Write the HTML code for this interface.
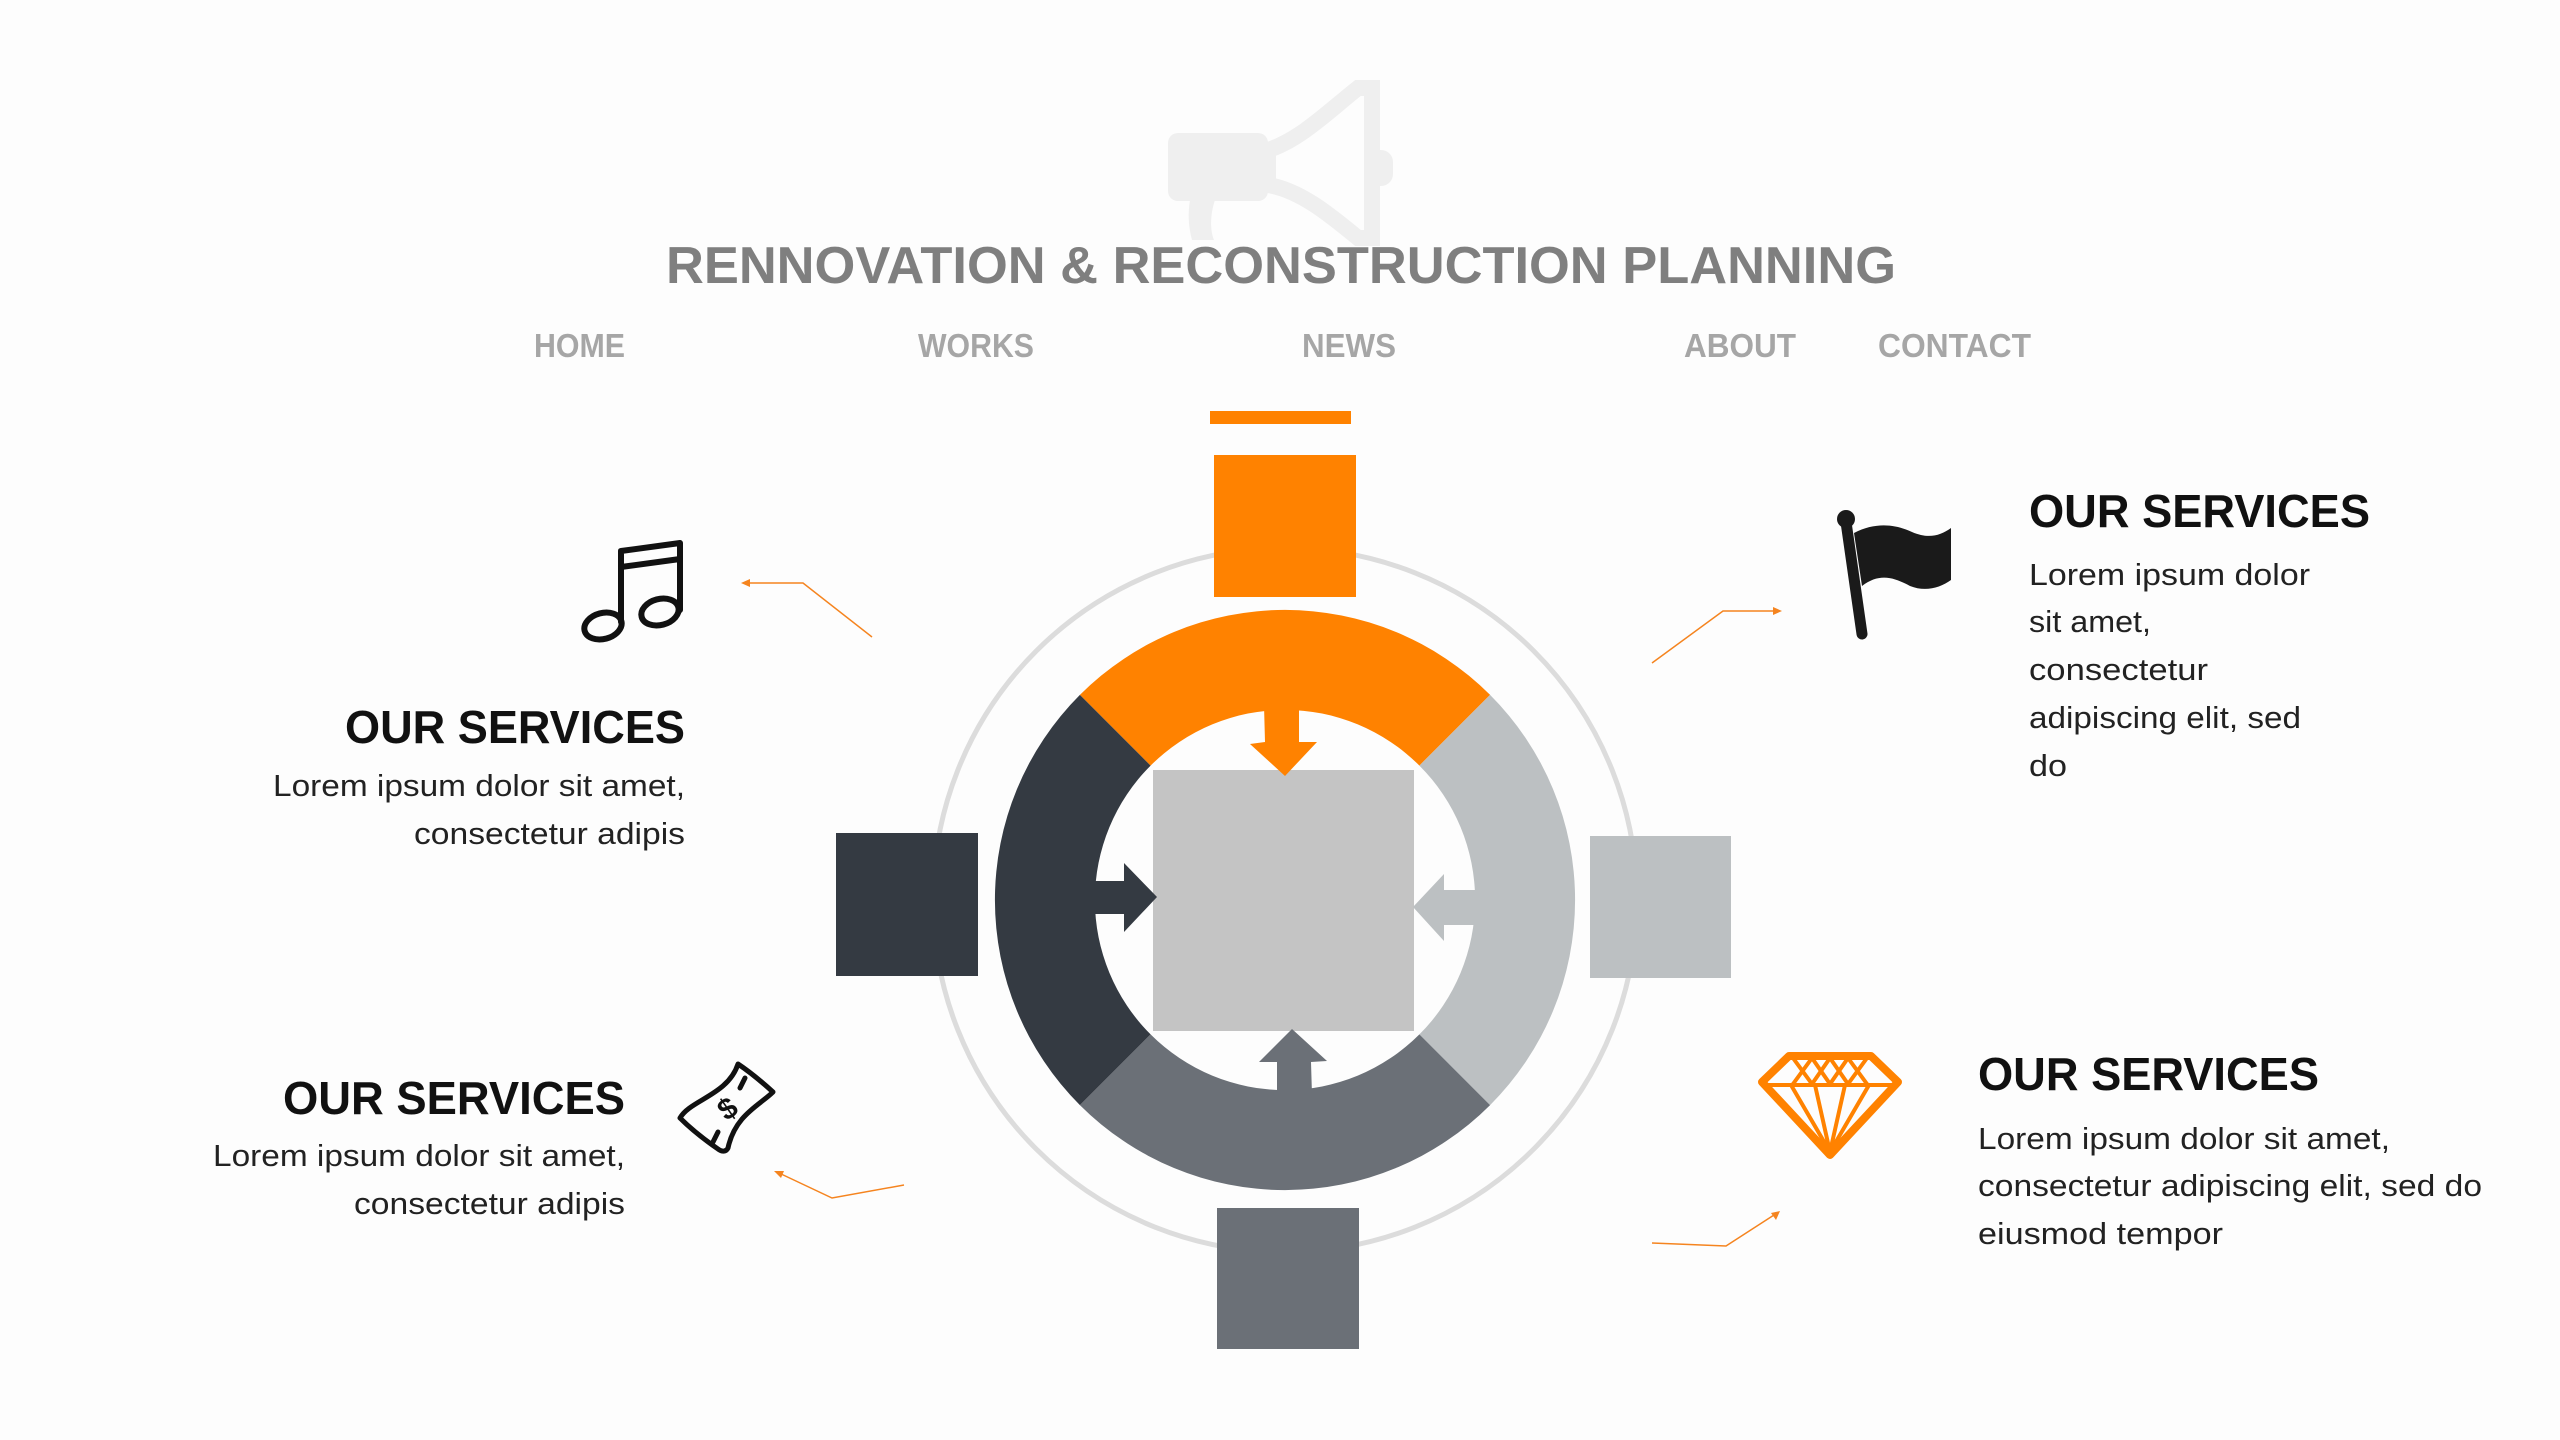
<!DOCTYPE html>
<html><head><meta charset="utf-8"><style>
html,body{margin:0;padding:0;background:#fdfdfd;}
svg{display:block;}
</style></head><body>
<svg width="2560" height="1440" viewBox="0 0 2560 1440" xmlns="http://www.w3.org/2000/svg">
<rect width="2560" height="1440" fill="#fdfdfd"/>
<!-- megaphone -->
<g fill="#efefef" stroke="none">
<rect x="1168" y="133" width="100" height="68" rx="10"/>
<path d="M1268,150 C1300,140 1330,110 1358,88 L1372,88 L1372,238 L1358,238 C1330,215 1300,190 1268,185 Z" fill="none" stroke="#efefef" stroke-width="16"/>
<rect x="1365" y="150" width="28" height="36" rx="12"/>
<path d="M1190,200 L1215,200 C1210,215 1210,230 1214,240 L1192,240 C1188,225 1188,212 1190,200 Z"/>
</g>
<!-- title -->
<text x="666" y="283" font-family="Liberation Sans, sans-serif" font-weight="bold" font-size="52" fill="#7f7f7f" textLength="1230" lengthAdjust="spacingAndGlyphs">RENNOVATION &amp; RECONSTRUCTION PLANNING</text>
<g font-family="Liberation Sans, sans-serif" font-weight="bold" font-size="33" fill="#a6a6a6">
<text x="534" y="357" textLength="91" lengthAdjust="spacingAndGlyphs">HOME</text>
<text x="918" y="357" textLength="116" lengthAdjust="spacingAndGlyphs">WORKS</text>
<text x="1302" y="357" textLength="94" lengthAdjust="spacingAndGlyphs">NEWS</text>
<text x="1684" y="357" textLength="112" lengthAdjust="spacingAndGlyphs">ABOUT</text>
<text x="1878" y="357" textLength="153" lengthAdjust="spacingAndGlyphs">CONTACT</text>
</g>
<!-- outer circle -->
<circle cx="1285" cy="900" r="352" fill="none" stroke="#dcdcdc" stroke-width="5"/>
<!-- ring -->
<path d="M1079.9,694.9 A290,290 0 0 1 1490.1,694.9 L1419.4,765.6 A190,190 0 0 0 1150.6,765.6 Z" fill="#ff8200"/>
<path d="M1490.1,694.9 A290,290 0 0 1 1490.1,1105.1 L1419.4,1034.4 A190,190 0 0 0 1419.4,765.6 Z" fill="#bcc0c2"/>
<path d="M1490.1,1105.1 A290,290 0 0 1 1079.9,1105.1 L1150.6,1034.4 A190,190 0 0 0 1419.4,1034.4 Z" fill="#6b7077"/>
<path d="M1079.9,1105.1 A290,290 0 0 1 1079.9,694.9 L1150.6,765.6 A190,190 0 0 0 1150.6,1034.4 Z" fill="#343a42"/>
<!-- center square -->
<rect x="1153" y="770" width="261" height="261" fill="#c4c4c4"/>
<!-- arrows -->
<polygon points="1264,705 1299,705 1299,742 1317,742 1285,776 1250,744 1265,742" fill="#ff8200"/>
<polygon points="1092,881 1124,881 1124,863 1157,897 1124,932 1124,914 1092,914" fill="#343a42"/>
<polygon points="1478,890 1444,890 1444,874 1413,907 1444,941 1444,925 1478,925" fill="#bcc0c2"/>
<polygon points="1277,1095 1277,1062 1259,1062 1292,1029 1327,1061 1311,1062 1312,1095" fill="#6b7077"/>
<!-- outer squares -->
<rect x="1210" y="411" width="141" height="13" fill="#ff8200"/>
<rect x="1214" y="455" width="142" height="142" fill="#ff8200"/>
<rect x="836" y="833" width="142" height="143" fill="#343a42"/>
<rect x="1590" y="836" width="141" height="142" fill="#bcc0c2"/>
<rect x="1217" y="1208" width="142" height="141" fill="#6b7077"/>
<!-- connectors -->
<g fill="none" stroke="#f5841f" stroke-width="1.5">
<polyline points="872,637 803,583 748,583"/>
<polyline points="1652,663 1723,611 1774,611"/>
<polyline points="904,1185 832,1198 779,1173"/>
<polyline points="1652,1243 1726,1246 1774,1215"/>
</g>
<g fill="#f5841f">
<polygon points="741,583 750,579 750,587"/>
<polygon points="1782,611 1773,607 1773,615"/>
<polygon points="774,1171 784,1171 781,1178"/>
<polygon points="1780,1211 1776,1220 1771,1213"/>
</g>
<!-- texts -->
<g font-family="Liberation Sans, sans-serif" fill="#111">
<text x="685" y="743" font-weight="bold" font-size="46" text-anchor="end" textLength="340" lengthAdjust="spacingAndGlyphs">OUR SERVICES</text>
<text x="625" y="1114" font-weight="bold" font-size="46" text-anchor="end" textLength="342" lengthAdjust="spacingAndGlyphs">OUR SERVICES</text>
<text x="2029" y="527" font-weight="bold" font-size="46" textLength="341" lengthAdjust="spacingAndGlyphs">OUR SERVICES</text>
<text x="1978" y="1090" font-weight="bold" font-size="46" textLength="341" lengthAdjust="spacingAndGlyphs">OUR SERVICES</text>
</g>
<g font-family="Liberation Sans, sans-serif" fill="#222" font-size="31">
<text x="685" y="796" text-anchor="end" textLength="412" lengthAdjust="spacingAndGlyphs">Lorem ipsum dolor sit amet,</text>
<text x="685" y="844" text-anchor="end" textLength="271" lengthAdjust="spacingAndGlyphs">consectetur adipis</text>
<text x="625" y="1166" text-anchor="end" textLength="412" lengthAdjust="spacingAndGlyphs">Lorem ipsum dolor sit amet,</text>
<text x="625" y="1214" text-anchor="end" textLength="271" lengthAdjust="spacingAndGlyphs">consectetur adipis</text>
<text x="2029" y="585" textLength="281" lengthAdjust="spacingAndGlyphs">Lorem ipsum dolor</text>
<text x="2029" y="632" textLength="122" lengthAdjust="spacingAndGlyphs">sit amet,</text>
<text x="2029" y="680" textLength="179" lengthAdjust="spacingAndGlyphs">consectetur</text>
<text x="2029" y="728" textLength="272" lengthAdjust="spacingAndGlyphs">adipiscing elit, sed</text>
<text x="2029" y="776" textLength="38" lengthAdjust="spacingAndGlyphs">do</text>
<text x="1978" y="1149" textLength="412" lengthAdjust="spacingAndGlyphs">Lorem ipsum dolor sit amet,</text>
<text x="1978" y="1196" textLength="504" lengthAdjust="spacingAndGlyphs">consectetur adipiscing elit, sed do</text>
<text x="1978" y="1244" textLength="245" lengthAdjust="spacingAndGlyphs">eiusmod tempor</text>
</g>
<!-- music icon -->
<g fill="none" stroke="#111" stroke-width="6" stroke-linecap="round" stroke-linejoin="round">
<ellipse cx="603" cy="626" rx="19" ry="13" transform="rotate(-15 603 626)"/>
<ellipse cx="660" cy="612" rx="19" ry="13" transform="rotate(-15 660 612)"/>
<path d="M621,622 L621,551 L680,543 L680,610"/>
<path d="M621,567 L680,559"/>
</g>
<!-- money icon -->
<g fill="none" stroke="#111" stroke-width="5" stroke-linecap="round" stroke-linejoin="round">
<path d="M738,1064 C750,1072 762,1082 773,1092 C760,1105 735,1115 728,1148 C726,1152 722,1152 718,1149 C705,1140 692,1130 680,1118 C690,1100 728,1095 738,1064 Z"/>
<path d="M745,1078 L740,1088 M718,1132 L713,1142"/>
</g>
<text x="727" y="1119" font-family="Liberation Sans, sans-serif" font-weight="bold" font-size="30" fill="#111" text-anchor="middle" transform="rotate(-35 727 1108)">$</text>
<!-- flag icon -->
<g>
<line x1="1846" y1="522" x2="1862" y2="634" stroke="#1a1a1a" stroke-width="11" stroke-linecap="round"/>
<circle cx="1846" cy="519" r="9" fill="#1a1a1a"/>
<path d="M1854,533 C1875,522 1895,524 1912,532 C1928,539 1940,536 1951,528 L1951,580 C1940,588 1925,592 1910,586 C1895,578 1880,572 1862,586 Z" fill="#1a1a1a"/>
</g>
<!-- diamond icon -->
<g fill="none" stroke="#ff8200" stroke-linejoin="round" stroke-linecap="round">
<path d="M1789,1056 L1871,1056 L1898,1082 L1830,1155 L1762,1082 Z" stroke-width="8"/>
<g stroke-width="4">
<line x1="1764" y1="1085" x2="1896" y2="1085"/>
<path d="M1793,1058 L1812,1084 M1812,1058 L1793,1084 M1812,1058 L1830,1084 M1830,1058 L1812,1084 M1830,1058 L1848,1084 M1848,1058 L1830,1084 M1848,1058 L1867,1084 M1867,1058 L1848,1084"/>
<path d="M1791,1085 L1830,1152 M1815,1085 L1830,1152 M1845,1085 L1830,1152 M1869,1085 L1830,1152"/>
</g>
</g>
</svg>
</body></html>
